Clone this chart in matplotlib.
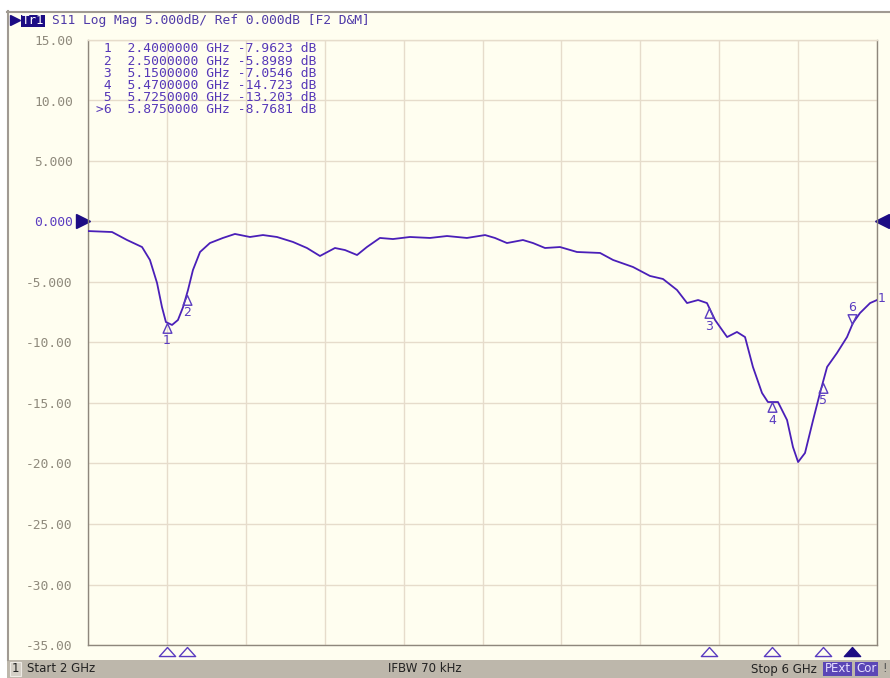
import numpy as np
import matplotlib
matplotlib.use("Agg")
import matplotlib.pyplot as plt
from matplotlib.path import Path
from matplotlib.patches import Rectangle
from matplotlib.transforms import blended_transform_factory

# ------------------------------------------------------------------ #
#  data                                           #
# ------------------------------------------------------------------ #
freq_ghz = [
    2.000, 2.122, 2.198, 2.274, 2.314, 2.350, 2.375, 2.395, 2.426, 2.456,
    2.482, 2.507, 2.532, 2.568, 2.618, 2.684, 2.745, 2.821, 2.887, 2.958,
    3.039, 3.110, 3.176, 3.252, 3.303, 3.364, 3.414, 3.480, 3.546, 3.632,
    3.734, 3.820, 3.921, 4.013, 4.063, 4.124, 4.205, 4.256, 4.317, 4.393,
    4.479, 4.596, 4.662, 4.763, 4.849, 4.915, 4.986, 5.037, 5.093, 5.138,
    5.179, 5.240, 5.290, 5.331, 5.371, 5.417, 5.447, 5.498, 5.544, 5.574,
    5.600, 5.635, 5.676, 5.711, 5.747, 5.797, 5.848, 5.878, 5.914, 5.965,
    6.000,
]
s11_db = [
    -0.79, -0.87, -1.53, -2.11, -3.18, -5.08, -7.07, -8.31, -8.55, -8.14,
    -7.07, -5.66, -4.01, -2.52, -1.78, -1.36, -1.03, -1.28, -1.12, -1.28,
    -1.69, -2.19, -2.85, -2.19, -2.36, -2.77, -2.11, -1.36, -1.45, -1.28,
    -1.36, -1.20, -1.36, -1.12, -1.36, -1.78, -1.53, -1.78, -2.19, -2.11,
    -2.52, -2.60, -3.18, -3.76, -4.50, -4.75, -5.66, -6.74, -6.49, -6.74,
    -8.14, -9.55, -9.13, -9.55, -12.02, -14.17, -14.92, -14.92, -16.41, -18.64,
    -19.88, -19.13, -16.41, -14.17, -12.02, -10.87, -9.55, -8.39, -7.56, -6.74,
    -6.49,
]

marker_ids = [1, 2, 3, 4, 5, 6]
marker_freq = [2.4, 2.5, 5.15, 5.47, 5.725, 5.875]
marker_val = [-7.9623, -5.8989, -7.0546, -14.723, -13.203, -8.7681]
active_marker = 6

start_ghz, stop_ghz = 2.0, 6.0
ref_db, scale_db = 0.0, 5.0
top_db, bottom_db = 15.0, -35.0
ifbw = "IFBW 70 kHz"

# colours of the analyser screen
CREAM = "#fffef0"
GRID = "#e6dccb"
FRAME = "#8e877c"
TRACE = "#4a1fb8"
MARK = "#5a3cc0"
NAVY = "#1c0c84"
LABEL = "#8f8a7c"
BAR = "#bdb7ab"
MONO = "DejaVu Sans Mono"

W, H = 890, 678
fig = plt.figure(figsize=(W / 100, H / 100), dpi=100, facecolor=CREAM)

# ------------------------------------------------------------------ #
#  screen decorations (pixel space)                                   #
# ------------------------------------------------------------------ #
deco = fig.add_axes([0, 0, 1, 1], zorder=-1)
deco.set_xlim(0, W)
deco.set_ylim(H, 0)
deco.axis("off")
deco.add_patch(Rectangle((0, 0), W, 11, color="white", lw=0))
deco.add_patch(Rectangle((0, 0), 7, H, color="white", lw=0))
deco.plot([7, W], [11.5, 11.5], color="#a09a92", lw=1.5)
deco.plot([7.5, 7.5], [11, 660], color="#a09a92", lw=1.5)

# title line
deco.plot([15], [20], marker=">", color=NAVY, ms=7)
deco.add_patch(Rectangle((21, 14.5), 24, 12, color=NAVY, lw=0))
deco.text(33, 20.5, "Tr1", color="white", fontsize=9, family=MONO,
          ha="center", va="center")
title = (f"S11 Log Mag {scale_db:.3f}dB/ Ref {ref_db:.3f}dB [F2 D&M]")
deco.text(52, 20.5, title, color="#4f3aa8", fontsize=9.3, family=MONO,
          va="center")

# status bar
deco.add_patch(Rectangle((7, 660), W - 7, 18, color=BAR, lw=0))
deco.add_patch(Rectangle((9.5, 662), 11, 14, facecolor="#d4cfc6",
                         edgecolor="#eeeae4", lw=0.8))
deco.text(15, 669, "1", fontsize=8.5, ha="center", va="center", color="#222")
deco.text(27, 669, f"Start {start_ghz:g} GHz", fontsize=8.5, va="center",
          color="#222")
deco.text(425, 669, ifbw, fontsize=8.5, ha="center", va="center", color="#222")
deco.text(817, 669, f"Stop {stop_ghz:g} GHz", fontsize=8.5, ha="right",
          va="center", color="#222")
deco.add_patch(Rectangle((823, 662), 29, 14, color="#5a46b6", lw=0))
deco.text(837.5, 669, "PExt", fontsize=8.5, ha="center", va="center",
          color="#e6e0ff")
deco.add_patch(Rectangle((855, 662), 23, 14, color="#5a46b6", lw=0))
deco.text(866.5, 669, "Cor", fontsize=8.5, ha="center", va="center",
          color="#e6e0ff")
deco.text(885, 669, "!", fontsize=8.5, ha="center", va="center", color="#555")

# ------------------------------------------------------------------ #
#  graticule + trace                                                  #
# ------------------------------------------------------------------ #
L, R, T, B = 88, 877, 40, 645
ax = fig.add_axes([L / W, (H - B) / H, (R - L) / W, (B - T) / H])
ax.set_facecolor(CREAM)
ax.set_xlim(start_ghz, stop_ghz)
ax.set_ylim(bottom_db, top_db)

ax.set_xticks(np.linspace(start_ghz, stop_ghz, 11))
ax.set_xticklabels([])
yt = np.arange(bottom_db, top_db + 0.1, scale_db)
ax.set_yticks(yt)


def db_label(v):
    s = f"{v:.3f}" if abs(v) < 10 else f"{v:.2f}"
    return s


ax.set_yticklabels([db_label(v) for v in yt], family=MONO, fontsize=9.3,
                   color=LABEL)
for lab, v in zip(ax.get_yticklabels(), yt):
    if v == ref_db:
        lab.set_color("#5a3cc0")
ax.tick_params(length=0, pad=11)
ax.grid(True, color=GRID, lw=1)
ax.set_axisbelow(True)
for sp in ax.spines.values():
    sp.set_color(FRAME)
    sp.set_linewidth(1)
ax.spines["top"].set_color(GRID)

ax.plot(freq_ghz, s11_db, color=TRACE, lw=1.3, zorder=3)

# reference level arrows on both sides
bt = blended_transform_factory(ax.transAxes, ax.transData)
ax.plot([-0.006], [ref_db], marker=">", color=NAVY, ms=10, transform=bt,
        clip_on=False)
ax.plot([1.006], [ref_db], marker="<", color=NAVY, ms=10, transform=bt,
        clip_on=False)
ax.annotate("1", (freq_ghz[-1], s11_db[-1]), xytext=(1, 2),
            textcoords="offset pixels", color=MARK, fontsize=9,
            ha="left", va="center", annotation_clip=False)

# markers on the trace
tri_up = Path([(0, 0), (-0.45, -1), (0.45, -1), (0, 0)],
              [Path.MOVETO, Path.LINETO, Path.LINETO, Path.CLOSEPOLY])
tri_dn = Path([(0, 0), (-0.45, 1), (0.45, 1), (0, 0)],
              [Path.MOVETO, Path.LINETO, Path.LINETO, Path.CLOSEPOLY])
mk_y = np.interp(marker_freq, freq_ghz, s11_db)
for mid, f, y in zip(marker_ids, marker_freq, mk_y):
    up = mid != active_marker
    ax.plot([f], [y], marker=tri_up if up else tri_dn, ms=14, mfc="none",
            mec=MARK, mew=1.0, zorder=4)
    ax.annotate(str(mid), (f, y), xytext=(0, -18 if up else 17),
                textcoords="offset pixels", color=MARK, fontsize=9,
                ha="center", va="center")

# marker arrows under the graticule
bx = blended_transform_factory(ax.transData, ax.transAxes)
tri_wide = Path([(0, 0), (-0.9, -1), (0.9, -1), (0, 0)],
                [Path.MOVETO, Path.LINETO, Path.LINETO, Path.CLOSEPOLY])
for mid, f in zip(marker_ids, marker_freq):
    act = mid == active_marker
    ax.plot([f], [-0.003], marker=tri_wide, ms=13, transform=bx,
            mfc=NAVY if act else "none", mec=NAVY if act else MARK,
            mew=1.0, clip_on=False)

# marker table
rows = []
for mid, f, v in zip(marker_ids, marker_freq, marker_val):
    tag = f">{mid}" if mid == active_marker else f" {mid}"
    rows.append(f"{tag}  {f:.7f} GHz {v:.5g} dB")
for i, row in enumerate(rows):
    ax.text((96 - L) / (R - L), 1 - (49 + 12.1 * i - T) / (B - T), row,
            transform=ax.transAxes, family=MONO, fontsize=9.4,
            color="#5638b8", va="center", zorder=5)

fig.savefig("out.png", dpi=100, facecolor=fig.get_facecolor())
